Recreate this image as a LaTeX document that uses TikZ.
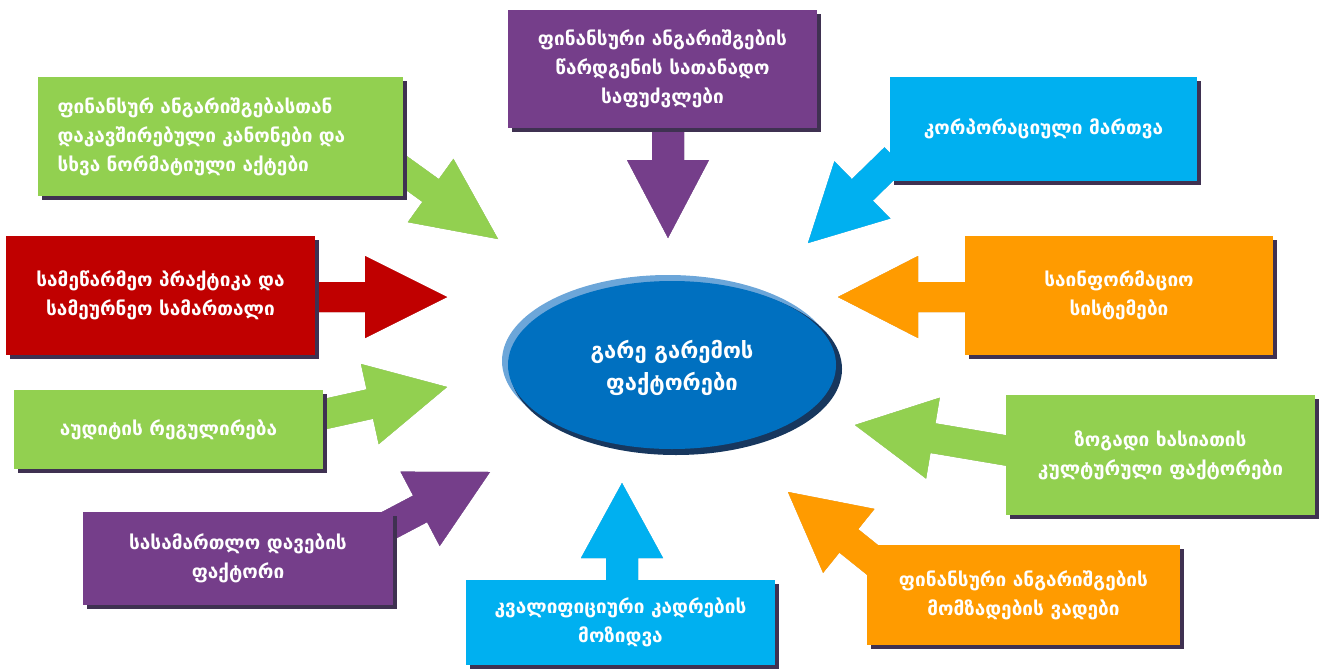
\documentclass[tikz,border=0pt]{standalone}
\usepackage{fontspec}
\setmainfont{DejaVu Sans}
\usetikzlibrary{calc,shadows}
\definecolor{cgreen}{RGB}{146,208,80}
\definecolor{cgreenD}{RGB}{80,122,40}
\definecolor{cgreenL}{RGB}{195,229,158}
\definecolor{cpurple}{RGB}{117,62,138}
\definecolor{cpurpleD}{RGB}{63,31,85}
\definecolor{cpurpleL}{RGB}{178,148,195}
\definecolor{ccyan}{RGB}{0,176,240}
\definecolor{ccyanD}{RGB}{0,110,160}
\definecolor{ccyanL}{RGB}{127,213,247}
\definecolor{cred}{RGB}{192,0,0}
\definecolor{credD}{RGB}{112,0,0}
\definecolor{credL}{RGB}{224,128,128}
\definecolor{corange}{RGB}{255,155,0}
\definecolor{corangeD}{RGB}{160,95,0}
\definecolor{corangeL}{RGB}{255,204,128}
\definecolor{shadowc}{RGB}{63,49,81}
\definecolor{cblue}{RGB}{0,112,192}
\definecolor{cblueL}{RGB}{108,166,217}
\definecolor{cblueD}{RGB}{23,55,94}
\newcommand{\arrowpath}[5]{% start, tip, shaft half, head half, head length
  ($(#1)!#3!90:(#2)$) -- ($($(#2)!#5!(#1)$)!#3!-90:(#1)$) -- ($($(#2)!#5!(#1)$)!#4!-90:(#1)$) -- (#2) -- ($($(#2)!#5!(#1)$)!#4!90:(#1)$) -- ($($(#2)!#5!(#1)$)!#3!90:(#1)$) -- ($(#1)!#3!-90:(#2)$) -- cycle}
\newcommand{\blockarrow}[4]{% color, start, tip, dims {sh}{hh}{hl}
  \fill[#1D, shift={(2.5pt,-3pt)}] \arrowpath{#2}{#3}#4;
  \fill[#1L, shift={(-2pt,2pt)}] \arrowpath{#2}{#3}#4;
  \fill[#1] \arrowpath{#2}{#3}#4;}
\tikzset{
  box/.style={rectangle, draw=none, text=white, inner sep=0pt, align=center,
    font=\bfseries\fontsize{19}{29}\selectfont,
    drop shadow={shadow xshift=4pt, shadow yshift=-4pt, fill=shadowc, opacity=1}},
}
\begin{document}
\begin{tikzpicture}[x=1pt,y=-1pt]
\useasboundingbox (0,0) rectangle (1324,669);
% arrow coordinates
\coordinate (s1) at (398,167);  \coordinate (t1) at (498,239);
\coordinate (s2) at (668,110);  \coordinate (t2) at (668,238);
\coordinate (s3) at (895,158);  \coordinate (t3) at (808,243);
\coordinate (s4) at (300,297);  \coordinate (t4) at (447,297);
\coordinate (s5) at (985,297);  \coordinate (t5) at (838,297);
\coordinate (s6) at (316,416);  \coordinate (t6) at (447,387);
\coordinate (s7) at (1015,452); \coordinate (t7) at (855,425);
\coordinate (s8) at (380,530);  \coordinate (t8) at (490,472);
\coordinate (s9) at (885,570);  \coordinate (t9) at (788,492);
\coordinate (s10) at (622,600); \coordinate (t10) at (622,483);
\blockarrow{cgreen}{s1}{t1}{{14pt}{39pt}{83pt}}
\blockarrow{cpurple}{s2}{t2}{{16pt}{41pt}{78pt}}
\blockarrow{ccyan}{s3}{t3}{{15pt}{40pt}{76pt}}
\blockarrow{cred}{s4}{t4}{{15pt}{41pt}{82pt}}
\blockarrow{corange}{s5}{t5}{{15pt}{41pt}{80pt}}
\blockarrow{cgreen}{s6}{t6}{{15pt}{41pt}{79pt}}
\blockarrow{cgreen}{s7}{t7}{{15pt}{41pt}{79pt}}
\blockarrow{cpurple}{s8}{t8}{{15pt}{42pt}{79pt}}
\blockarrow{corange}{s9}{t9}{{15pt}{41pt}{78pt}}
\blockarrow{ccyan}{s10}{t10}{{16pt}{41pt}{75pt}}
% boxes
\node[box, fill=cgreen, minimum width=365pt, minimum height=119pt, text width=326pt, align=left] (b1) at (220.5,136.5)
  {ფინანსურ ანგარიშგებასთან\\დაკავშირებული კანონები და\\სხვა ნორმატიული აქტები};
\node[box, fill=cpurple, minimum width=309pt, minimum height=118pt] (b2) at (662.5,69)
  {ფინანსური ანგარიშგების\\წარდგენის სათანადო\\საფუძვლები};
\node[box, fill=ccyan, minimum width=307pt, minimum height=104pt] (b3) at (1043.5,129)
  {კორპორაციული მართვა};
\node[box, fill=cred, minimum width=309pt, minimum height=119pt] (b4) at (160.5,295.5)
  {სამეწარმეო პრაქტიკა და\\სამეურნეო სამართალი};
\node[box, fill=corange, minimum width=308pt, minimum height=119pt] (b5) at (1119,295.5)
  {საინფორმაციო\\სისტემები};
\node[box, fill=cgreen, minimum width=309pt, minimum height=79pt] (b6) at (168.5,429.5)
  {აუდიტის რეგულირება};
\node[box, fill=cgreen, minimum width=309pt, minimum height=120pt] (b7) at (1160.5,455)
  {ზოგადი ხასიათის\\კულტურული ფაქტორები};
\node[box, fill=cpurple, minimum width=310pt, minimum height=93pt] (b8) at (238,558.5)
  {სასამართლო დავების\\ფაქტორი};
\node[box, fill=corange, minimum width=313pt, minimum height=100pt] (b9) at (1023.5,595)
  {ფინანსური ანგარიშგების\\მომზადების ვადები};
\node[box, fill=ccyan, minimum width=309pt, minimum height=85pt] (b10) at (620.5,622.5)
  {კვალიფიციური კადრების\\მოზიდვა};
% center ellipse
\fill[cblueL] (668,361) ellipse [x radius=166, y radius=86];
\fill[cblueD] (676,369) ellipse [x radius=166, y radius=86];
\fill[cblue] (672,365) ellipse [x radius=164, y radius=84];
\node[text=white, align=center, font=\bfseries\fontsize{22}{32}\selectfont] (c) at (672,368)
  {გარე გარემოს\\ფაქტორები};
\end{tikzpicture}
\end{document}
